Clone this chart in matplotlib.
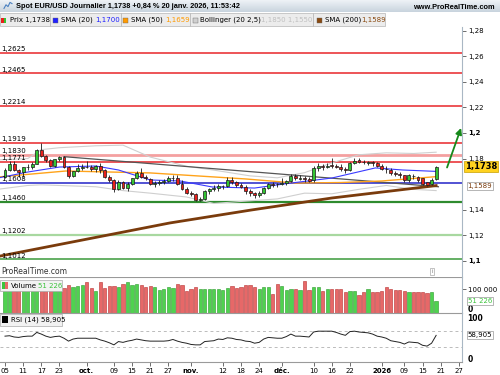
import numpy as np
import matplotlib.pyplot as plt
import matplotlib.transforms as mtransforms
from matplotlib.patches import Rectangle

# daily candles, 5 sept. 2025 -> 20 janv. 2026 (index 0..95)
opens = [1.1660, 1.1712, 1.1760, 1.1708, 1.1697, 1.1732, 1.1735, 1.1760, 1.1865, 1.1818,
         1.1786, 1.1745, 1.1795, 1.1810, 1.1735, 1.1665, 1.1700, 1.1730, 1.1735, 1.1732,
         1.1718, 1.1742, 1.1712, 1.1657, 1.1630, 1.1562, 1.1618, 1.1570, 1.1605, 1.1645,
         1.1690, 1.1655, 1.1640, 1.1600, 1.1610, 1.1615, 1.1625, 1.1645, 1.1650, 1.1600,
         1.1565, 1.1535, 1.1520, 1.1480, 1.1485, 1.1545, 1.1562, 1.1568, 1.1585, 1.1588,
         1.1630, 1.1620, 1.1592, 1.1580, 1.1545, 1.1528, 1.1512, 1.1535, 1.1570, 1.1600,
         1.1602, 1.1600, 1.1610, 1.1625, 1.1665, 1.1642, 1.1648, 1.1638, 1.1630, 1.1728,
         1.1740, 1.1738, 1.1748, 1.1744, 1.1738, 1.1722, 1.1712, 1.1762, 1.1790, 1.1775,
         1.1768, 1.1772, 1.1765, 1.1745, 1.1718, 1.1712, 1.1685, 1.1680, 1.1668, 1.1630,
         1.1665, 1.1660, 1.1645, 1.1615, 1.1598, 1.1638]
highs = [1.1730, 1.1780, 1.1780, 1.1720, 1.1735, 1.1755, 1.1770, 1.1878, 1.1918, 1.1830,
         1.1795, 1.1800, 1.1820, 1.1818, 1.1745, 1.1705, 1.1755, 1.1755, 1.1780, 1.1750,
         1.1752, 1.1762, 1.1720, 1.1670, 1.1640, 1.1630, 1.1625, 1.1615, 1.1650, 1.1700,
         1.1728, 1.1670, 1.1650, 1.1625, 1.1630, 1.1640, 1.1665, 1.1668, 1.1670, 1.1630,
         1.1580, 1.1545, 1.1535, 1.1500, 1.1555, 1.1570, 1.1590, 1.1600, 1.1595, 1.1655,
         1.1655, 1.1625, 1.1610, 1.1590, 1.1560, 1.1540, 1.1545, 1.1580, 1.1610, 1.1615,
         1.1610, 1.1650, 1.1635, 1.1680, 1.1680, 1.1672, 1.1665, 1.1655, 1.1740, 1.1762,
         1.1760, 1.1765, 1.1805, 1.1760, 1.1760, 1.1735, 1.1770, 1.1805, 1.1808, 1.1790,
         1.1785, 1.1780, 1.1775, 1.1755, 1.1740, 1.1725, 1.1700, 1.1692, 1.1675, 1.1680,
         1.1680, 1.1665, 1.1650, 1.1620, 1.1645, 1.1745]
lows = [1.1650, 1.1700, 1.1700, 1.1660, 1.1660, 1.1710, 1.1720, 1.1755, 1.1815, 1.1775,
        1.1735, 1.1735, 1.1785, 1.1725, 1.1645, 1.1655, 1.1695, 1.1710, 1.1725, 1.1700,
        1.1695, 1.1690, 1.1650, 1.1620, 1.1542, 1.1555, 1.1565, 1.1545, 1.1595, 1.1640,
        1.1650, 1.1630, 1.1590, 1.1575, 1.1590, 1.1600, 1.1615, 1.1625, 1.1590, 1.1555,
        1.1525, 1.1505, 1.1470, 1.1468, 1.1480, 1.1520, 1.1545, 1.1550, 1.1565, 1.1580,
        1.1600, 1.1580, 1.1570, 1.1520, 1.1505, 1.1490, 1.1500, 1.1520, 1.1560, 1.1580,
        1.1580, 1.1590, 1.1595, 1.1615, 1.1630, 1.1635, 1.1620, 1.1615, 1.1620, 1.1705,
        1.1710, 1.1725, 1.1730, 1.1730, 1.1700, 1.1690, 1.1705, 1.1755, 1.1765, 1.1760,
        1.1750, 1.1745, 1.1735, 1.1710, 1.1690, 1.1675, 1.1665, 1.1650, 1.1620, 1.1620,
        1.1640, 1.1620, 1.1590, 1.1585, 1.1590, 1.1630]
closes = [1.1712, 1.1760, 1.1708, 1.1697, 1.1732, 1.1735, 1.1760, 1.1865, 1.1818, 1.1786,
          1.1745, 1.1795, 1.1810, 1.1735, 1.1665, 1.1700, 1.1730, 1.1735, 1.1732, 1.1718,
          1.1742, 1.1712, 1.1657, 1.1630, 1.1562, 1.1618, 1.1570, 1.1605, 1.1645, 1.1690,
          1.1655, 1.1645, 1.1600, 1.1610, 1.1615, 1.1625, 1.1645, 1.1650, 1.1600, 1.1565,
          1.1535, 1.1520, 1.1480, 1.1485, 1.1545, 1.1565, 1.1568, 1.1585, 1.1588, 1.1630,
          1.1620, 1.1592, 1.1580, 1.1545, 1.1528, 1.1512, 1.1535, 1.1570, 1.1600, 1.1597,
          1.1598, 1.1610, 1.1625, 1.1665, 1.1645, 1.1648, 1.1638, 1.1628, 1.1728, 1.1740,
          1.1738, 1.1745, 1.1744, 1.1738, 1.1722, 1.1710, 1.1762, 1.1785, 1.1775, 1.1772,
          1.1772, 1.1765, 1.1745, 1.1718, 1.1715, 1.1685, 1.1680, 1.1675, 1.1635, 1.1668,
          1.1662, 1.1630, 1.1605, 1.1595, 1.1635, 1.1738]

volumes = [105000, 98000, 110000, 102000, 96000, 100000, 108000, 125000, 130000, 112000,
           105000, 100000, 98000, 104000, 117000, 108000, 112000, 115000, 129000, 104000,
           92000, 129000, 104000, 112000, 112000, 108000, 121000, 129000, 117000, 121000,
           117000, 108000, 112000, 108000, 96000, 100000, 108000, 104000, 121000, 117000,
           92000, 100000, 108000, 100000, 100000, 100000, 100000, 100000, 96000, 104000,
           112000, 104000, 108000, 117000, 117000, 108000, 100000, 108000, 108000, 79000,
           121000, 112000, 96000, 100000, 100000, 96000, 133000, 96000, 108000, 108000,
           92000, 100000, 100000, 100000, 100000, 87000, 92000, 92000, 75000, 87000,
           100000, 87000, 87000, 92000, 108000, 100000, 96000, 96000, 92000, 87000,
           87000, 87000, 87000, 83000, 87000, 51226]

rsi = [57, 58, 55, 54, 56, 57, 57, 66, 62, 57, 54, 56, 57, 52, 45, 50, 52, 52, 52, 52,
       52, 48, 45, 41, 36, 44, 42, 45, 47, 50, 48, 46, 45, 45, 45, 45, 46, 49, 45, 42,
       40, 37, 36, 36, 44, 45, 46, 50, 49, 53, 52, 49, 48, 45, 44, 40, 42, 50, 54, 53,
       52, 52, 56, 62, 57, 57, 56, 55, 67, 69, 69, 69, 69, 66, 62, 59, 68, 69, 67, 66,
       65, 62, 57, 55, 52, 46, 44, 42, 38, 43, 42, 41, 35, 33, 40, 58.905]

# indicator curves (x = day index)
sma20_x = [-1.6, 5, 12, 20, 25, 32, 38.6, 45.7, 55, 63, 72, 81.6, 87.6, 95]
sma20 = [1.1648, 1.1695, 1.1734, 1.1742, 1.1711, 1.1633, 1.1625, 1.1578, 1.1570,
         1.1609, 1.1648, 1.1727, 1.1711, 1.1700]
sma50_x = [-1.6, 13.4, 32, 53, 64, 74, 83, 95]
sma50 = [1.1656, 1.1703, 1.1688, 1.1641, 1.1609, 1.1613, 1.1625, 1.1659]
sma200_x = [-1.6, 36.3, 54.2, 72, 95]
sma200 = [1.1035, 1.1297, 1.1398, 1.1492, 1.1589]
bb_x = [-1.6, 5, 8, 12, 20, 26, 32, 40, 46, 54, 60, 66, 72, 78, 84, 90, 95]
bb_up = [1.1790, 1.1800, 1.1870, 1.1885, 1.1900, 1.1905, 1.1812, 1.1740, 1.1710, 1.1665,
         1.1650, 1.1690, 1.1766, 1.1830, 1.1845, 1.1840, 1.1850]
bb_lo = [1.1560, 1.1590, 1.1595, 1.1590, 1.1580, 1.1550, 1.1530, 1.1500, 1.1450, 1.1470,
         1.1485, 1.1530, 1.1525, 1.1560, 1.1590, 1.1560, 1.1550]
trend_x = [13, 95.5]
trend_y = [1.1815, 1.1580]
arrow_from = (97.2, 1.1710)
arrow_to = (100.7, 1.2060)

# horizontal levels
levels = [1.2625, 1.2465, 1.2214, 1.1919, 1.1830, 1.1771, 1.1608, 1.1460, 1.1202, 1.1012]
level_labels = ['1,2625', '1,2465', '1,2214', '1,1919', '1,1830', '1,1771', '1,1608',
                '1,1460', '1,1202', '1,1012']
level_colors = ['#e8262a', '#e8262a', '#e8262a', '#e8262a', '#f4a0a0', '#e8262a',
                '#2323c8', '#2e8b2e', '#a8d8a0', '#3a9a3a']
level_widths = [1.1, 1.1, 1.1, 1.1, 2.0, 1.1, 1.1, 1.6, 1.6, 1.1]

price_ticks = [1.10, 1.12, 1.14, 1.18, 1.20, 1.22, 1.24, 1.26, 1.28]
price_tick_labels = ['1,1', '1,12', '1,14', '1,18', '1,2', '1,22', '1,24', '1,26', '1,28']

date_ticks = [0, 4, 8, 12, 18, 24, 28, 32, 36, 41, 48, 52, 56, 61, 68, 72, 76, 83, 88, 92, 96, 100]
date_labels = ['05', '11', '17', '23', 'oct.', '09', '15', '21', '27', 'nov.', '12', '18', '24',
               'déc.', '10', '16', '22', '2026', '09', '15', '21', '27']

W, H = 500, 375
def box(x0, y0, x1, y1):
    return [x0 / W, 1 - y1 / H, (x1 - x0) / W, (y1 - y0) / H]

plt.rcParams['font.family'] = 'DejaVu Sans'
fig = plt.figure(figsize=(5, 3.75), dpi=100)

ax = fig.add_axes(box(0, 27, 462, 277))
axv = fig.add_axes(box(0, 277, 462, 313), sharex=ax)
axr = fig.add_axes(box(0, 313, 462, 362), sharex=ax)

spine_col = '#a9b7c4'
for a in (ax, axv, axr):
    a.set_facecolor('white')
    for s in ('top', 'left'):
        a.spines[s].set_visible(False)
    a.spines['right'].set_color(spine_col)
    a.spines['bottom'].set_color('#9a9a9a')
    a.spines['bottom'].set_linewidth(0.8)
    a.yaxis.tick_right()
    a.tick_params(axis='y', length=3, width=0.6, color='#555555', labelsize=5, pad=1.5)
    a.tick_params(axis='x', length=0)
ax.set_xlim(-1.1, 100.7)

# ---- main price panel
ax.set_ylim(1.0875, 1.2828)
idx = np.arange(len(closes))
o, hi, lo, c = map(np.array, (opens, highs, lows, closes))
up = c >= o

for lv, lab, col, lw in zip(levels, level_labels, level_colors, level_widths):
    ax.axhline(lv, color=col, lw=lw, zorder=1)
    ax.text(-0.9, lv + 0.0007, lab, fontsize=5, color='black', va='bottom', ha='left', zorder=7)

ax.plot(bb_x, bb_up, color='#cfcfcf', lw=0.8, zorder=2)
ax.plot(bb_x, bb_lo, color='#cfcfcf', lw=0.8, zorder=2)
ax.plot(trend_x, trend_y, color='#555555', lw=0.9, zorder=2)
ax.plot(sma50_x, sma50, color='#ffa31a', lw=1.0, zorder=3)
ax.plot(sma20_x, sma20, color='#3a3aff', lw=0.8, zorder=3)
ax.plot(sma200_x, sma200, color='#7a3b0c', lw=2.0, zorder=3)

ax.vlines(idx, lo, hi, color='#1a1a1a', lw=0.6, zorder=4)
body_lo = np.minimum(o, c)
body_h = np.maximum(np.abs(c - o), 0.00025)
ax.bar(idx, body_h, 0.64, bottom=body_lo, color=np.where(up, '#33c433', '#e8201c'),
       edgecolor='#1a1a1a', lw=0.5, zorder=5)

ax.annotate('', xy=arrow_to, xytext=arrow_from,
            arrowprops=dict(arrowstyle='-|>', color='#16891a', lw=1.3, mutation_scale=9), zorder=6)

ax.set_yticks(price_ticks)
ax.set_yticklabels(price_tick_labels)
for t in ax.get_yticklabels():
    if t.get_text() in ('1,2', '1,1'):
        t.set_fontweight('bold')
ax.spines['bottom'].set_visible(False)
ax.tick_params(axis='x', labelbottom=False)

trans = mtransforms.blended_transform_factory(ax.transAxes, ax.transData)
ax.text(1.006, 1.1738, '1,1738', transform=trans, fontsize=6, fontweight='bold', va='center',
        ha='left', bbox=dict(boxstyle='square,pad=0.15', fc='#ffd21f', ec='#c8a000', lw=0.5),
        zorder=8, clip_on=False)
ax.text(1.012, 1.1589, '1,1589', transform=trans, fontsize=5, color='#7a3b0c', va='center',
        ha='left', bbox=dict(boxstyle='square,pad=0.15', fc='white', ec='#999999', lw=0.5),
        zorder=8, clip_on=False)
ax.text(0.002, 0.003, 'ProRealTime.com', transform=ax.transAxes, fontsize=5.5, color='#333333',
        va='bottom', ha='left')
ax.text(0.935, 0.012, 'i', transform=ax.transAxes, fontsize=4, color='#777777', va='bottom',
        ha='center', bbox=dict(boxstyle='square,pad=0.2', fc='white', ec='#aaaaaa', lw=0.5))

# ---- volume panel
axv.set_ylim(0, 150000)
vcol = np.where(up, '#4fd24f', '#e76868')
vedge = np.where(up, '#2a9a2a', '#b83030')
axv.bar(idx, volumes, 0.72, color=vcol, edgecolor=vedge, lw=0.4, zorder=2)
axv.axhline(150000, color='#9a9a9a', lw=0.8)
axv.set_yticks([100000])
axv.set_yticklabels(['100 000'])
axv.tick_params(axis='x', labelbottom=False)
vtrans = mtransforms.blended_transform_factory(axv.transAxes, axv.transData)
axv.text(1.012, 16000, '0', transform=vtrans, fontsize=5.5, fontweight='bold', va='center', ha='left')
axv.text(1.012, 51226, '51 226', transform=vtrans, fontsize=5, color='#3cc43c', va='center',
         ha='left', bbox=dict(boxstyle='square,pad=0.15', fc='white', ec='#999999', lw=0.5),
         clip_on=False)
axv.add_patch(Rectangle((0, 0.60), 0.135, 0.32, transform=axv.transAxes, fc='#f2f2f2',
                        ec='#aaaaaa', lw=0.5, zorder=5))
axv.add_patch(Rectangle((0.004, 0.66), 0.007, 0.2, transform=axv.transAxes, fc='#3cc43c', lw=0, zorder=6))
axv.add_patch(Rectangle((0.011, 0.66), 0.007, 0.2, transform=axv.transAxes, fc='#e76868', lw=0, zorder=6))
axv.text(0.024, 0.76, 'Volume', transform=axv.transAxes, fontsize=5, va='center', zorder=7)
axv.text(0.083, 0.76, '51 226', transform=axv.transAxes, fontsize=5, color='#3cc43c', va='center', zorder=7)

# ---- RSI panel
axr.set_ylim(-5.3, 112.8)
axr.axhline(70, color='#bbbbbb', lw=0.7, ls=(0, (3, 3)))
axr.axhline(30, color='#bbbbbb', lw=0.7, ls=(0, (3, 3)))
axr.plot(idx, rsi, color='#222222', lw=0.7)
axr.axhline(112.8, color='#9a9a9a', lw=0.8)
axr.set_yticks([])
rtrans = mtransforms.blended_transform_factory(axr.transAxes, axr.transData)
axr.text(1.012, 100, '100', transform=rtrans, fontsize=5.5, fontweight='bold', va='center', ha='left')
axr.text(1.012, 0, '0', transform=rtrans, fontsize=5.5, fontweight='bold', va='center', ha='left')
axr.text(1.012, 58.905, '58,905', transform=rtrans, fontsize=5, va='center', ha='left',
         bbox=dict(boxstyle='square,pad=0.15', fc='white', ec='#999999', lw=0.5), clip_on=False)
axr.add_patch(Rectangle((0, 0.74), 0.135, 0.24, transform=axr.transAxes, fc='#f2f2f2',
                        ec='#aaaaaa', lw=0.5, zorder=5))
axr.add_patch(Rectangle((0.004, 0.79), 0.013, 0.14, transform=axr.transAxes, fc='black', lw=0, zorder=6))
axr.text(0.024, 0.86, 'RSI (14) 58,905', transform=axr.transAxes, fontsize=5, va='center', zorder=7)

axr.set_xticks(date_ticks)
axr.set_xticklabels(date_labels)
axr.tick_params(axis='x', length=3, width=0.6, color='#555555', labelsize=5, pad=1.5)
for t in axr.get_xticklabels():
    if t.get_text() in ('oct.', 'nov.', 'déc.', '2026'):
        t.set_fontweight('bold')

# ---- header bar
axh = fig.add_axes(box(0, 0, 500, 12))
grad = np.linspace(0, 1, 20).reshape(-1, 1)
axh.imshow(grad, aspect='auto', cmap=plt.matplotlib.colors.LinearSegmentedColormap.from_list(
    'hdr', ['#eef2f6', '#c9d4de']), extent=(0, 1, 0, 1))
axh.plot([0.008, 0.012, 0.016, 0.020, 0.024], [0.3, 0.6, 0.45, 0.8, 0.7], color='#4a80c0', lw=0.8)
axh.set_xlim(0, 1)
axh.set_ylim(0, 1)
axh.axis('off')
fig.text(16 / W, 1 - 6.5 / H, 'Spot EUR/USD Journalier 1,1738 +0,84 % 20 janv. 2026, 11:53:42',
         fontsize=5.3, fontweight='bold', family='Liberation Sans', va='center', ha='left')
fig.text(495 / W, 1 - 7.5 / H, 'www.ProRealTime.com', fontsize=5.3, fontweight='bold',
         family='Liberation Sans', va='center', ha='right')

# ---- legend row
legend_boxes = [(0, 50), (50, 121), (121, 190), (190, 313), (313, 385)]
for x0, x1 in legend_boxes:
    fig.patches.append(Rectangle((x0 / W, 1 - 26 / H), (x1 - x0) / W, 13 / H,
                                 transform=fig.transFigure, fc='#ececec', ec='#b5b5b5', lw=0.5))
def sq(x, col):
    fig.patches.append(Rectangle((x / W, 1 - 22.5 / H), 5 / W, 5 / H, transform=fig.transFigure,
                                 fc=col, ec='#666666', lw=0.3))
fig.patches.append(Rectangle((1 / W, 1 - 22.5 / H), 2.5 / W, 5 / H, transform=fig.transFigure, fc='#e8201c', lw=0))
fig.patches.append(Rectangle((3.5 / W, 1 - 22.5 / H), 2.5 / W, 5 / H, transform=fig.transFigure, fc='#33c433', lw=0))
sq(53, '#2020ff')
sq(123, '#ff9a00')
sq(193, '#d0d0d0')
sq(317, '#8a4a10')
ty = 1 - 20 / H
fig.text(10 / W, ty, 'Prix 1,1738', fontsize=5, va='center')
fig.text(61 / W, ty, 'SMA (20)', fontsize=5, va='center')
fig.text(95 / W, ty, '1,1700', fontsize=5, va='center', color='#2020ff')
fig.text(131 / W, ty, 'SMA (50)', fontsize=5, va='center')
fig.text(165 / W, ty, '1,1659', fontsize=5, va='center', color='#ff9a00')
fig.text(200 / W, ty, 'Bollinger (20 2,5)', fontsize=5, va='center')
fig.text(261 / W, ty, '1,1850 1,1550', fontsize=5, va='center', color='#c0c0c0')
fig.text(325 / W, ty, 'SMA (200)', fontsize=5, va='center')
fig.text(361 / W, ty, '1,1589', fontsize=5, va='center', color='#8a4a10')

fig.savefig('out.png', dpi=100)
